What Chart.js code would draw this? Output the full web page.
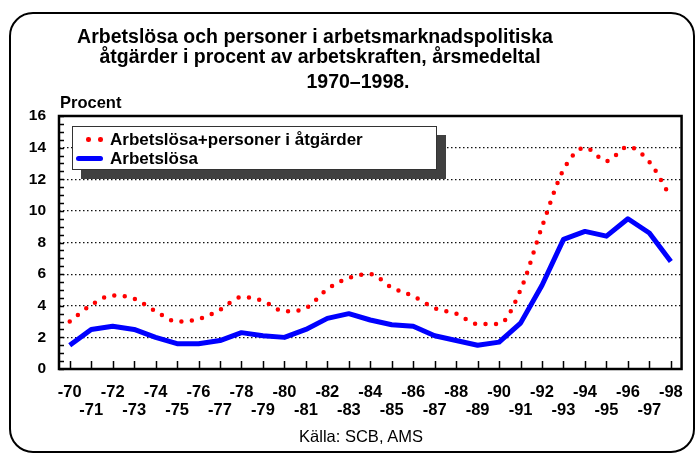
<!DOCTYPE html>
<html lang="sv">
<head>
<meta charset="utf-8">
<title>Arbetslösa och personer i arbetsmarknadspolitiska åtgärder 1970–1998</title>
<script src="https://cdn.jsdelivr.net/npm/chart.js@4.4.1/dist/chart.umd.min.js"></script>
<style>
  body { margin: 0; background: #fff; font-family: Arial, "Liberation Sans", sans-serif; }
  #wrap { position: relative; width: 697px; height: 456px; overflow: hidden; }
  #chart { position: absolute; left: 0; top: 0; }
  .txt { position: absolute; white-space: nowrap; line-height: 1; color: #000; }
  .title { font-weight: bold; font-size: 19.5px; width: 600px; text-align: center; }
  #frame { position: absolute; left: 9px; top: 12px; width: 686px; height: 441px;
           box-sizing: border-box; border: 2px solid #000; border-radius: 24px; }
  #legend { position: absolute; left: 72px; top: 126px; width: 365px; height: 44px;
            box-sizing: border-box; background: #fff; border: 1px solid #333;
            box-shadow: 9px 9px 0 #404040; }
  .leg { font-weight: bold; font-size: 17px; left: 110px; }
  .dot { position: absolute; width: 4.5px; height: 4.5px; border-radius: 50%; background: #f00; }
  .bar { position: absolute; left: 76px; top: 156px; width: 27px; height: 5px; border-radius: 2.5px; background: #00f; }
</style>
</head>
<body>
<div id="wrap">
  <canvas id="chart" width="697" height="456"></canvas>
  <div id="frame"></div>
  <div class="txt title" style="left:15px; top:26.8px;">Arbetslösa och personer i arbetsmarknadspolitiska</div>
  <div class="txt title" style="left:20px; top:47px;">åtgärder i procent av arbetskraften, årsmedeltal</div>
  <div class="txt title" style="left:58px; top:71.5px;">1970–1998.</div>
  <div class="txt" style="left:60px; top:94px; font-weight:bold; font-size:16.5px;">Procent</div>
  <div id="legend"></div>
  <div class="dot" style="left:86px; top:137px;"></div>
  <div class="dot" style="left:98px; top:137px;"></div>
  <div class="txt leg" style="top:130.6px;">Arbetslösa+personer i åtgärder</div>
  <div class="bar"></div>
  <div class="txt leg" style="top:149.6px;">Arbetslösa</div>
  <div class="txt" style="left:0; width:722px; text-align:center; top:427.5px; font-size:16.5px;">Källa: SCB, AMS</div>
</div>
<script>
const years = ["-70", "-71", "-72", "-73", "-74", "-75", "-76", "-77", "-78", "-79",
               "-80", "-81", "-82", "-83", "-84", "-85", "-86", "-87", "-88", "-89",
               "-90", "-91", "-92", "-93", "-94", "-95", "-96", "-97", "-98"];
// Arbetslösa+personer i åtgärder
const medAtgarder = [3.0, 4.05, 4.65, 4.45, 3.65, 3.0, 3.15, 3.75, 4.55, 4.3,
                     3.65, 3.85, 5.05, 5.75, 6.0, 5.15, 4.6, 3.85, 3.5, 2.85,
                     2.85, 5.0, 9.0, 12.6, 14.0, 13.15, 14.05, 13.1, 10.85];
// Arbetslösa
const arbetslosa = [1.5, 2.5, 2.7, 2.5, 2.0, 1.6, 1.6, 1.8, 2.3, 2.1,
                    2.0, 2.5, 3.2, 3.5, 3.1, 2.8, 2.7, 2.1, 1.8, 1.5,
                    1.7, 2.9, 5.3, 8.2, 8.7, 8.4, 9.5, 8.6, 6.8];
const yMin = 0, yMax = 16, yStep = 2, yMinorStep = 0.5;

// plot frame and the small inward ticks
const frame = {
  id: "frame",
  afterDraw(chart) {
    const { ctx, chartArea: a, scales: { x, y } } = chart;
    ctx.save();
    ctx.strokeStyle = "#000";
    ctx.lineWidth = 1.5;
    ctx.beginPath();
    years.forEach((_, i) => {
      const px = Math.round(x.getPixelForValue(i)) + 0.5;
      ctx.moveTo(px, a.bottom);
      ctx.lineTo(px, a.bottom - 8);
    });
    for (let v = yMin; v <= yMax; v += yMinorStep) {
      const py = Math.round(y.getPixelForValue(v)) + 0.5;
      ctx.moveTo(a.left, py);
      ctx.lineTo(a.left + 5, py);
    }
    ctx.stroke();
    ctx.lineWidth = 2.5;
    ctx.strokeRect(a.left, a.top, a.right - a.left, a.bottom - a.top);
    ctx.restore();
  }
};

new Chart(document.getElementById("chart"), {
  type: "line",
  data: {
    labels: years,
    datasets: [
      {
        label: "Arbetslösa+personer i åtgärder",
        data: medAtgarder,
        borderColor: "#ff0000",
        borderWidth: 4.5,
        borderDash: [0, 10.5],
        borderCapStyle: "round",
        cubicInterpolationMode: "monotone",
        pointRadius: 0,
        fill: false
      },
      {
        label: "Arbetslösa",
        data: arbetslosa,
        borderColor: "#0000ff",
        borderWidth: 5,
        borderJoinStyle: "round",
        tension: 0,
        pointRadius: 0,
        fill: false
      }
    ]
  },
  options: {
    responsive: false,
    animation: false,
    layout: { padding: { left: 0, right: 14, top: 116, bottom: 0 } },
    plugins: {
      legend: { display: false },
      title: { display: false },
      tooltip: { enabled: false }
    },
    scales: {
      x: {
        offset: true,
        afterFit: (s) => { s.height = 87; },
        grid: { display: false, drawTicks: false },
        border: { display: false },
        ticks: {
          autoSkip: false,
          maxRotation: 0,
          minRotation: 0,
          padding: 14,
          color: "#000",
          font: { family: "Arial, 'Liberation Sans', sans-serif", size: 16.5, weight: "bold", lineHeight: 1.12 },
          callback: function (value, index) {
            const lab = this.getLabelForValue(value);
            return index % 2 === 0 ? lab : ["", lab];
          }
        }
      },
      y: {
        min: yMin,
        max: yMax,
        afterFit: (s) => { s.width = 59; },
        grid: {
          drawTicks: false,
          lineWidth: 1.2,
          color: (c) => (c.tick && (c.tick.value === yMin || c.tick.value === yMax)) ? "rgba(0,0,0,0)" : "#111"
        },
        border: { display: false, dash: [1.5, 2.5] },
        ticks: {
          stepSize: yStep,
          padding: 13,
          color: "#000",
          font: { family: "Arial, 'Liberation Sans', sans-serif", size: 15.5, weight: "bold" }
        }
      }
    }
  },
  plugins: [frame]
});
</script>
</body>
</html>
